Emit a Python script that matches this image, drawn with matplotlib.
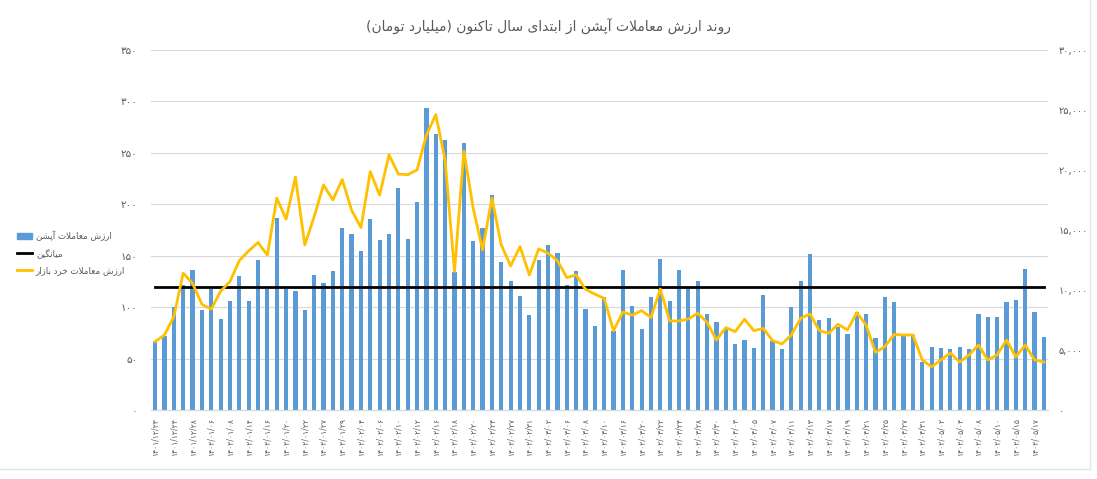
import matplotlib
matplotlib.use("Agg")
import matplotlib.pyplot as plt
import matplotlib.patches as patches
from matplotlib.lines import Line2D
from matplotlib.ticker import FuncFormatter
import numpy as np

plt.rcParams['font.family'] = ['DejaVu Sans']

title = "روند ارزش معاملات آپشن از ابتدای سال تاکنون (میلیارد تومان)"
bar_name = "ارزش معاملات آپشن"
avg_name = "میانگین"
line_name = "ارزش معاملات خرد بازار"

# every other category carries a label
date_labels = [
    "1401/12/23", "1401/12/24", "1401/12/28", "1402/01/06", "1402/01/08", "1402/01/14",
    "1402/01/16", "1402/01/20", "1402/01/22", "1402/01/27", "1402/01/29", "1402/02/04",
    "1402/02/06", "1402/02/10", "1402/02/12", "1402/02/16", "1402/02/18", "1402/02/20",
    "1402/02/24", "1402/02/27", "1402/02/31", "1402/03/02", "1402/03/06", "1402/03/08",
    "1402/03/10", "1402/03/16", "1402/03/20", "1402/03/22", "1402/03/24", "1402/03/28",
    "1402/03/30", "1402/04/03", "1402/04/05", "1402/04/07", "1402/04/11", "1402/04/13",
    "1402/04/17", "1402/04/19", "1402/04/21", "1402/04/25", "1402/04/27", "1402/04/31",
    "1402/05/02", "1402/05/04", "1402/05/08", "1402/05/10", "1402/05/15", "1402/05/17",
]

# option trading value (billion toman), left axis
option_value = [
    67, 72, 100, 121, 136, 97, 118, 88, 106, 130, 106, 146, 118, 187, 118, 116,
    97, 131, 123, 135, 177, 171, 155, 186, 165, 171, 216, 166, 202, 293, 268, 262,
    134, 259, 164, 177, 209, 144, 125, 111, 92, 146, 160, 153, 121, 135, 98, 82,
    110, 77, 136, 101, 79, 110, 147, 106, 136, 119, 125, 93, 86, 79, 64, 68,
    60, 112, 67, 59, 100, 125, 152, 87, 89, 81, 74, 95, 93, 70, 110, 105,
    72, 73, 47, 61, 60, 59, 61, 59, 93, 90, 90, 105, 107, 137, 95, 71,
]

# retail market trading value, right axis
retail_value = [
    5700, 6250, 7780, 11400, 10550, 8800, 8400, 9900, 10700, 12450, 13250, 13950,
    12900, 17650, 15900, 19400, 13750, 16100, 18750, 17500, 19200, 16650, 15200, 19850,
    17900, 21250, 19650, 19600, 20000, 22900, 24600, 20800, 11530, 21580, 16800, 13330,
    17640, 13750, 12000, 13610, 11250, 13420, 13060, 12450, 11030, 11250, 10060, 9650,
    9300, 6600, 8170, 7900, 8280, 7700, 10080, 7420, 7420, 7580, 8060, 7300,
    5830, 6860, 6530, 7560, 6610, 6800, 5780, 5500, 6250, 7640, 8000, 6610,
    6390, 7140, 6670, 8110, 7080, 4800, 5280, 6300, 6250, 6250, 4170, 3600,
    4170, 4750, 4000, 4580, 5420, 4170, 4580, 5830, 4420, 5420, 4170, 4000,
]

avg_value = 120

# --- tiny persian shaper (matplotlib has no arabic shaping / rtl) ---
FORMS = {
    '\u0627': ('\uFE8D', '\uFE8E', None, None),
    '\u0622': ('\uFE81', '\uFE82', None, None),
    '\u0628': ('\uFE8F', '\uFE90', '\uFE91', '\uFE92'),
    '\u067E': ('\uFB56', '\uFB57', '\uFB58', '\uFB59'),
    '\u062A': ('\uFE95', '\uFE96', '\uFE97', '\uFE98'),
    '\u062E': ('\uFEA5', '\uFEA6', '\uFEA7', '\uFEA8'),
    '\u062F': ('\uFEA9', '\uFEAA', None, None),
    '\u0631': ('\uFEAD', '\uFEAE', None, None),
    '\u0632': ('\uFEAF', '\uFEB0', None, None),
    '\u0633': ('\uFEB1', '\uFEB2', '\uFEB3', '\uFEB4'),
    '\u0634': ('\uFEB5', '\uFEB6', '\uFEB7', '\uFEB8'),
    '\u0639': ('\uFEC9', '\uFECA', '\uFECB', '\uFECC'),
    '\u06A9': ('\uFB8E', '\uFB8F', '\uFB90', '\uFB91'),
    '\u06AF': ('\uFB92', '\uFB93', '\uFB94', '\uFB95'),
    '\u0644': ('\uFEDD', '\uFEDE', '\uFEDF', '\uFEE0'),
    '\u0645': ('\uFEE1', '\uFEE2', '\uFEE3', '\uFEE4'),
    '\u0646': ('\uFEE5', '\uFEE6', '\uFEE7', '\uFEE8'),
    '\u0648': ('\uFEED', '\uFEEE', None, None),
    '\u06CC': ('\uFBFC', '\uFBFD', '\uFBFE', '\uFBFF'),
    'LA': ('\uFEFB', '\uFEFC', None, None),
    'LAA': ('\uFEF5', '\uFEF6', None, None),
}


def fa(text):
    chars = []
    i = 0
    while i < len(text):
        c = text[i]
        if c == '\u0644' and i + 1 < len(text) and text[i + 1] in ('\u0627', '\u0622'):
            chars.append('LA' if text[i + 1] == '\u0627' else 'LAA')
            i += 2
        else:
            chars.append(c)
            i += 1
    out = []
    for k, c in enumerate(chars):
        if c not in FORMS:
            out.append(c)
            continue
        f = FORMS[c]
        prev = chars[k - 1] if k > 0 else None
        nxt = chars[k + 1] if k + 1 < len(chars) else None
        join_prev = prev in FORMS and FORMS[prev][2] is not None
        join_next = f[2] is not None and nxt in FORMS
        if join_prev and join_next:
            out.append(f[3])
        elif join_next:
            out.append(f[2])
        elif join_prev:
            out.append(f[1])
        else:
            out.append(f[0])
    s = ''.join(out)[::-1]
    return s.translate(str.maketrans('()', ')('))


DIGITS = str.maketrans('0123456789', '۰۱۲۳۴۵۶۷۸۹')


def fa_num(s):
    return str(s).translate(DIGITS)


grey = '#595959'
blue = '#5B9BD5'
gold = '#FFC000'

fig = plt.figure(figsize=(10.97, 4.79), dpi=100)
ax = fig.add_axes([0.138, 0.144, 0.817, 0.752])
ax2 = ax.twinx()

x = np.arange(len(option_value))
ax.bar(x, option_value, width=0.45, color=blue, zorder=2)
ax.plot(x, [avg_value] * len(x), color='black', lw=2, zorder=3)
ax2.plot(x, retail_value, color=gold, lw=2, zorder=3)

ax.set_xlim(-0.4, len(x) - 0.6)
ax.set_ylim(0, 350)
ax.set_yticks(np.arange(0, 351, 50))
ax2.set_ylim(0, 30000)
ax2.set_yticks(np.arange(0, 30001, 5000))
ax.yaxis.set_major_formatter(FuncFormatter(lambda v, p: fa_num(int(v))))
ax2.yaxis.set_major_formatter(FuncFormatter(lambda v, p: fa_num('{:,}'.format(int(v)))))

ax.set_xticks(x[::2])
ax.set_xticklabels([fa_num(d) for d in date_labels], rotation=90, color=grey)

ax.grid(axis='y', color='#D9D9D9', lw=0.8, zorder=0)
ax.set_axisbelow(True)
for a in (ax, ax2):
    for side in ('top', 'left', 'right'):
        a.spines[side].set_visible(False)
    a.spines['bottom'].set_color('#D9D9D9')
ax.tick_params(axis='both', length=0, labelsize=7.5, colors=grey)
ax.tick_params(axis='x', pad=6, labelsize=5.5)
ax.tick_params(axis='y', pad=10)
ax2.tick_params(axis='y', length=0, labelsize=7, colors=grey, pad=8)

fig.text(0.5, 0.944, fa(title), ha='center', va='center', fontsize=10, color=grey)

handles = [
    patches.Patch(color=blue),
    Line2D([0], [0], color='black', lw=2),
    Line2D([0], [0], color=gold, lw=2),
]
labels = [fa(bar_name), fa(avg_name), fa(line_name)]
fig.legend(handles, labels, loc='center left', bbox_to_anchor=(0.008, 0.472),
           frameon=False, fontsize=6.3, handlelength=1.8, labelcolor=grey,
           handletextpad=0.4, labelspacing=0.85)

# faint chart border, right and bottom
fig.add_artist(Line2D([0.9936, 0.9936], [0.02, 1.0], color='#E6E6E6', lw=1))
fig.add_artist(Line2D([0.0, 0.9936], [0.02, 0.02], color='#E6E6E6', lw=1))

fig.savefig('out.png', dpi=100, facecolor='white')
